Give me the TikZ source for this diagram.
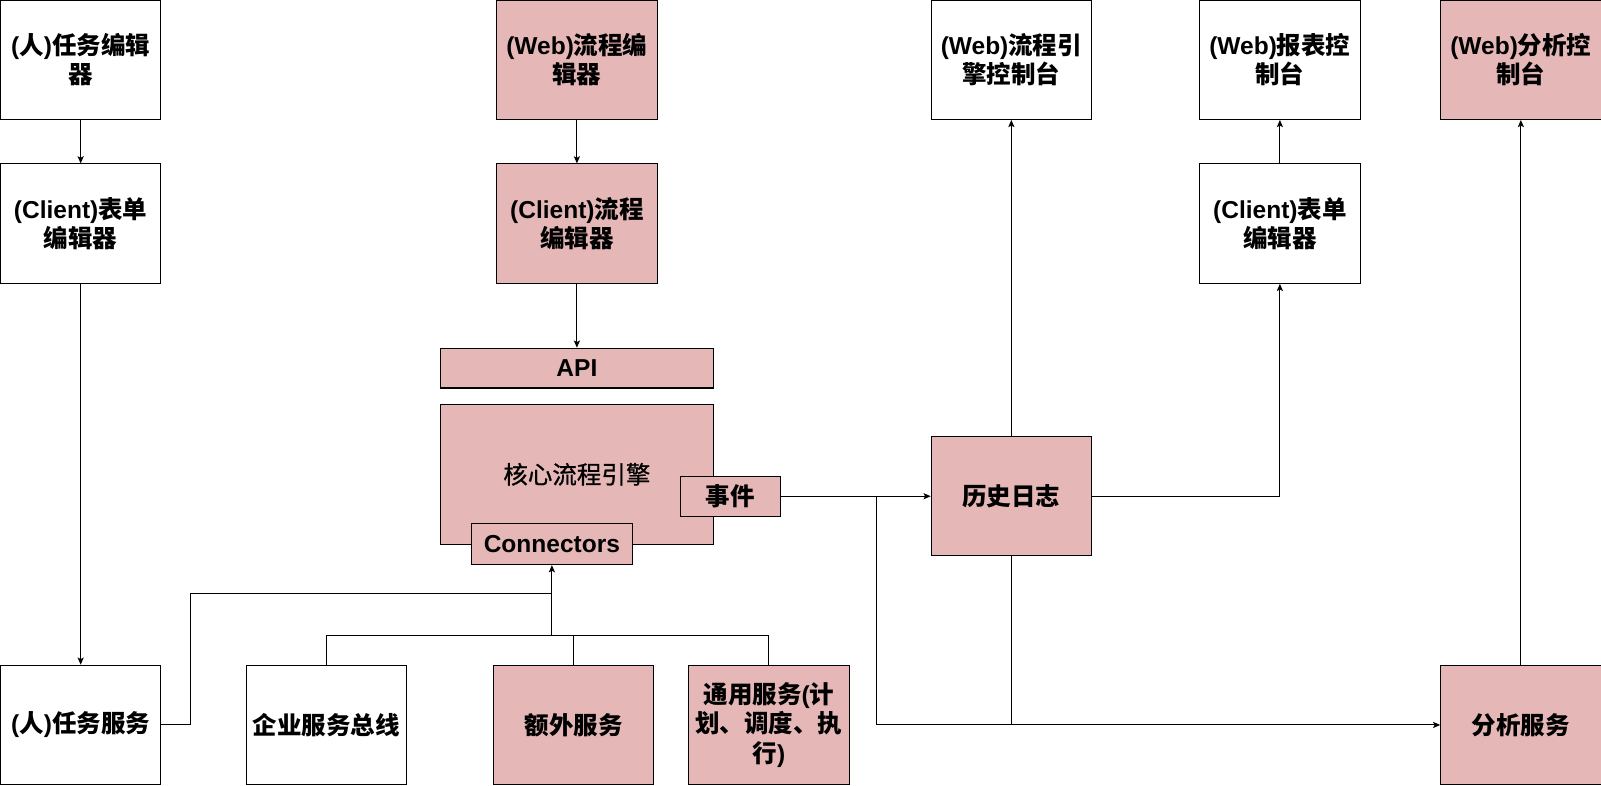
\documentclass[tikz,border=0pt]{standalone}
\usepackage{fontspec}
\setmainfont{Noto Sans CJK SC}
\newfontfamily\latf{Liberation Sans}
\newfontfamily\medf{Noto Sans CJK SC}[FakeBold=0.8]
\newcommand{\lat}[1]{{\latf #1}}
\usetikzlibrary{arrows.meta}
\definecolor{pinkfill}{RGB}{229,184,183}
\tikzset{
  box/.style={draw=black, line width=1pt, inner sep=0pt, align=center,
    font=\fontsize{24}{29}\selectfont\bfseries, minimum width=157pt, minimum height=117pt},
  pbox/.style={box, fill=pinkfill},
  wbox/.style={box, fill=white},
  conn/.style={line width=1pt, draw=black},
  arr/.style={conn, -{Stealth[length=7pt,width=6pt,inset=1.5pt]}}
}
\begin{document}
\begin{tikzpicture}[x=1pt,y=-1pt]
\useasboundingbox (0,0) rectangle (1568,769);
% column 1
\node[wbox] (te) at (79,58.5) {\lat{(}人\lat{)}任务编辑\\器};
\node[wbox] (ce) at (79,219) {\lat{(Client)}表单\\编辑器};
\node[wbox] (ts) at (79,710) {\lat{(}人\lat{)}任务服务};
% column 2
\node[pbox] (wpe) at (565,58.5) {\lat{(Web)}流程编\\辑器};
\node[pbox] (cpe) at (565,219) {\lat{(Client)}流程\\编辑器};
\node[pbox, minimum width=268pt, minimum height=39pt] (api) at (565,360.5) {\lat{API}};
\node[pbox, minimum width=268pt, minimum height=137pt, font=\fontsize{24}{29}\selectfont\medf] (core) at (565,464.5) {核心流程引擎};
\node[pbox, minimum width=98pt, minimum height=39pt] (evt) at (715,486) {事件};
\node[pbox, minimum width=157pt, minimum height=40pt] (cnr) at (540.5,533) {\lat{Connectors}};
% bottom row
\node[wbox] (esb) at (319.5,710) {企业服务总线};
\node[pbox] (ext) at (562,710) {额外服务};
\node[pbox] (gen) at (753,710) {通用服务\lat{(}计\\划、调度、执\\行\lat{)}};
% right part
\node[pbox] (hist) at (990.5,486) {历史日志};
\node[wbox] (wec) at (990.5,58.5) {\lat{(Web)}流程引\\擎控制台};
\node[wbox] (wrc) at (1253.5,58.5) {\lat{(Web)}报表控\\制台};
\node[wbox] (cfe) at (1253.5,219) {\lat{(Client)}表单\\编辑器};
\node[pbox] (wac) at (1489.5,58.5) {\lat{(Web)}分析控\\制台};
\node[pbox] (ana) at (1489.5,710) {分析服务};
% connectors
\coordinate (j1) at (540.5,622);
\coordinate (j2) at (540.5,581);
\coordinate (k1) at (187,581);
\coordinate (b1) at (858,486);
\draw[arr] (te) -- (ce);
\draw[arr] (ce) -- (ts);
\draw[arr] (wpe) -- (cpe);
\draw[arr] (cpe) -- (api);
\draw[arr] (j1) -- (cnr.south);
\draw[conn] (ts.east) -| (k1) -- (j2);
\draw[conn] (esb.north) |- (j1);
\draw[conn] (gen.north) |- (j1);
\draw[conn] (ext.north) -- (ext.north |- j1);
\draw[arr] (evt.east) -- (hist.west);
\draw[arr] (b1) |- (ana.west);
\draw[conn] (hist.south) -- (hist.south |- ana.west);
\draw[arr] (hist.north) -- (wec.south);
\draw[arr] (hist.east) -| (cfe.south);
\draw[arr] (cfe.north) -- (wrc.south);
\draw[arr] (ana.north) -- (wac.south);
\end{tikzpicture}
\end{document}
